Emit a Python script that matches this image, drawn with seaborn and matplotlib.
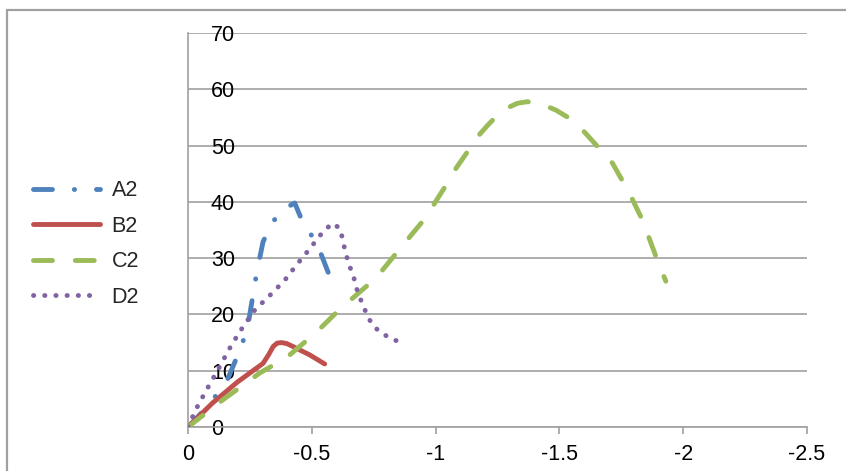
import matplotlib
matplotlib.use("Agg")
import matplotlib.pyplot as plt
import seaborn as sns
import pandas as pd
from matplotlib.patches import Rectangle
from matplotlib.lines import Line2D

sns.set_theme(style="white")
plt.rcParams['font.family'] = ['Liberation Sans', 'DejaVu Sans']

series_names = ["A2", "B2", "C2", "D2"]

a2_x = [0, -0.05, -0.1, -0.16, -0.21, -0.24, -0.262, -0.277, -0.303, -0.344, -0.378,
        -0.431, -0.465, -0.498, -0.535, -0.565, -0.595]
a2_y = [0, 2.3, 4.8, 8.5, 13.7, 17.5, 23.3, 27.3, 32.9, 36.5, 38.5,
        39.8, 36.2, 34.1, 31, 27.6, 24.5]

b2_x = [0, -0.1, -0.2, -0.25, -0.303, -0.325, -0.344, -0.36, -0.378, -0.4, -0.424,
        -0.46, -0.492, -0.552]
b2_y = [0, 4.3, 8.0, 9.6, 11.3, 12.8, 14.3, 14.9, 15, 14.8, 14.3,
        13.5, 12.8, 11.2]

c2_x = [0, -0.14, -0.29, -0.4, -0.52, -0.61, -0.76, -0.862, -0.962, -1.008, -1.043,
        -1.083, -1.124, -1.17, -1.21, -1.27, -1.33, -1.37, -1.426, -1.486, -1.55,
        -1.593, -1.673, -1.714, -1.782, -1.835, -1.895, -1.93]
c2_y = [0, 4.8, 9.6, 12.4, 16.9, 20.8, 26.5, 32.0, 37.3, 40.6, 43,
        46, 48.6, 51.6, 53.6, 56.3, 57.5, 57.8, 57.4, 56.3, 54.6,
        52.8, 48.9, 46.9, 41.6, 36.8, 29.7, 25.9]

d2_x = [0, -0.035, -0.075, -0.12, -0.176, -0.222, -0.27, -0.331, -0.391, -0.444, -0.498,
        -0.525, -0.552, -0.585, -0.615, -0.633, -0.644, -0.656, -0.67, -0.68, -0.694,
        -0.71, -0.726, -0.746, -0.777, -0.817, -0.859]
d2_y = [0, 3.4, 6.6, 10.1, 14.6, 17.8, 20.8, 23.4, 26.1, 29.1, 32,
        33.6, 35, 36.2, 35.2, 31.6, 29.8, 28.2, 26.5, 24.7, 23,
        21.3, 19.6, 18.1, 16.8, 15.8, 15]

x_ticks = [0, -0.5, -1, -1.5, -2, -2.5]
x_tick_labels = ["0", "-0.5", "-1", "-1.5", "-2", "-2.5"]
y_ticks = [0, 10, 20, 30, 40, 50, 60, 70]

colors = {"A2": "#4F81BD", "B2": "#C0504D", "C2": "#9BBB59", "D2": "#8064A2"}
dash_styles = {"A2": (0, (3.9, 4.5, 0.05, 4.5)), "B2": None,
               "C2": (0, (3.9, 4.7)), "D2": (0, (0.05, 2.25))}

data = {"A2": (a2_x, a2_y), "B2": (b2_x, b2_y), "C2": (c2_x, c2_y), "D2": (d2_x, d2_y)}

fig = plt.figure(figsize=(8.46, 4.71), dpi=100)
ax = fig.add_axes([188/846, 1-427/471, (807-188)/846, (427-33)/471])

LW = 3.5
FS = 15.5
handles = []
for name in series_names:
    xs, ys = data[name]
    df = pd.DataFrame({"x": xs, "y": ys})
    n_before = len(ax.lines)
    sns.lineplot(data=df, x="x", y="y", ax=ax, sort=False, estimator=None,
                 color=colors[name], lw=LW, zorder=3)
    line = ax.lines[n_before]
    if dash_styles[name] is not None:
        line.set_linestyle(dash_styles[name])
    line.set_dash_capstyle("round")
    line.set_solid_capstyle("round")
    line.set_solid_joinstyle("round")
    line.set_dash_joinstyle("round")
    h = Line2D([0], [0], color=colors[name], lw=LW,
               linestyle=dash_styles[name] if dash_styles[name] is not None else "-",
               dash_capstyle="round", solid_capstyle="round")
    handles.append(h)

ax.set_xlim(0, -2.5)
ax.set_ylim(0, 70)
ax.set_xticks(x_ticks)
ax.set_xticklabels(x_tick_labels)
ax.set_yticks(y_ticks)
ax.set_yticklabels([str(v) for v in y_ticks])
ax.set_xlabel("")
ax.set_ylabel("")

grid_c = "#A0A0A0"
ax.yaxis.grid(True, color=grid_c, lw=1.2, zorder=0)
ax.xaxis.grid(False)
ax.set_axisbelow(True)
for s in ["top", "right"]:
    ax.spines[s].set_visible(False)
for s in ["left", "bottom"]:
    ax.spines[s].set_color(grid_c)
    ax.spines[s].set_linewidth(1.2)

ax.tick_params(axis="x", direction="out", length=5, width=1.2, color=grid_c,
               labelsize=FS, labelcolor="black", pad=7, bottom=True)
ax.tick_params(axis="y", length=0, labelsize=FS, labelcolor="black", pad=-16.5, left=True)
for lbl in ax.get_yticklabels():
    lbl.set_horizontalalignment("left")

fig.legend(handles, series_names, loc="center left",
           bbox_to_anchor=(33/846, 1-244/471), bbox_transform=fig.transFigure,
           frameon=False, fontsize=FS, handlelength=3.1, handletextpad=0.55,
           labelspacing=0.68, borderpad=0, borderaxespad=0)

frame = Rectangle((7/846, -0.5), 2, 1-10/471+0.5, transform=fig.transFigure,
                  fill=False, edgecolor=grid_c, lw=1.6, clip_on=False)
fig.patches.append(frame)

fig.savefig("out.png", dpi=100)
